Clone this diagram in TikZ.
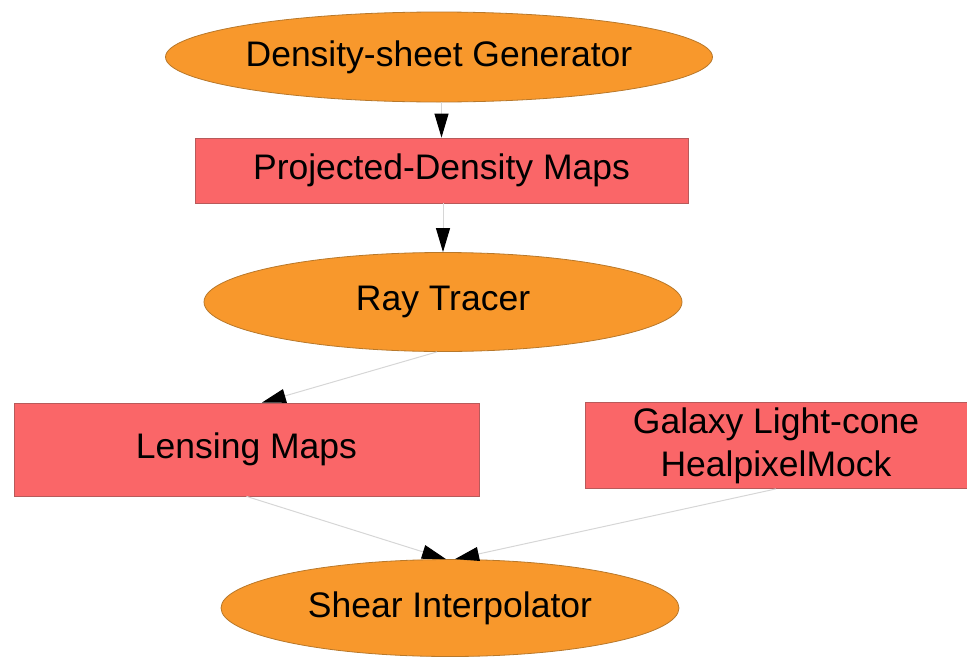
\documentclass[tikz,border=0pt]{standalone}
\usepackage{fontspec}
\setmainfont{Liberation Sans}
\usetikzlibrary{shapes.geometric,arrows.meta,calc}
\definecolor{orangefill}{HTML}{F8982C}
\definecolor{orangeline}{HTML}{B8782A}
\definecolor{redfill}{HTML}{FA6668}
\definecolor{redline}{HTML}{B85A5A}
\definecolor{edgegray}{HTML}{D6D6D6}
\begin{document}
\begin{tikzpicture}[x=1pt,y=-1pt,
  every node/.style={font=\fontsize{35.5}{43}\selectfont, inner sep=0pt, text=black},
  procnode/.style={ellipse, fill=orangefill, draw=orangeline, line width=0.8pt},
  datanode/.style={rectangle, fill=redfill, draw=redline, line width=0.8pt, align=center},
  flow/.style={draw=edgegray, line width=1pt, -{Triangle[black,length=24pt,width=14pt]}}]
\useasboundingbox (0,0) rectangle (967,659);
\node[procnode, minimum width=478pt, minimum height=90pt] (dsg) at (439,57) {Density-sheet Generator};
\node[datanode, minimum width=493pt, minimum height=65pt] (pd) at (441.5,170.5) {Projected-Density Maps};
\node[procnode, minimum width=478pt, minimum height=99pt] (rt) at (443,302) {Ray Tracer};
\node[datanode, minimum width=465pt, minimum height=93pt] (lm) at (246.5,449.5) {Lensing Maps};
\node[datanode, minimum width=382pt, minimum height=86pt] (gal) at (776,445.5) {Galaxy Light-cone\\HealpixelMock};
\node[procnode, minimum width=458pt, minimum height=97pt] (si) at (450,608) {Shear Interpolator};
\coordinate (lmin) at ($(lm.north west)!0.533!(lm.north east)$);
\coordinate (siL) at ($(si.north)+(-4,0)$);
\coordinate (siR) at ($(si.north)+(5,0)$);
\coordinate (rtout) at ($(rt.south)+(-6,0)$);
\draw[flow] (pd.north |- dsg.south) -- (pd.north);
\draw[flow] (pd.south -| rt.north) -- (rt.north);
\draw[flow] (rtout) -- (lmin);
\draw[flow] (lm.south) -- (siL);
\draw[flow] (gal.south) -- (siR);
\end{tikzpicture}
\end{document}
